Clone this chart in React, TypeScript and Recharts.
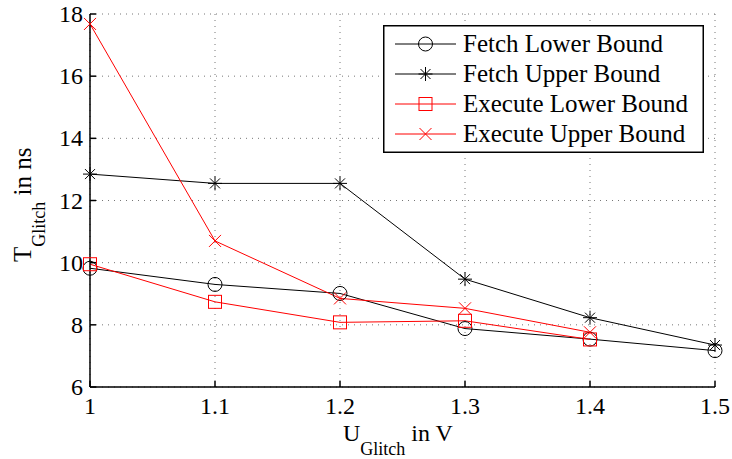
import React from "react";
import { CartesianGrid, Label, Legend, Line, LineChart, XAxis, YAxis } from "recharts";

const voltages = [1, 1.1, 1.2, 1.3, 1.4, 1.5];
const fetchLower = [9.82, 9.3, 9.01, 7.88, 7.54, 7.17];
const fetchUpper = [12.85, 12.55, 12.55, 9.47, 8.23, 7.35];
const executeLower = [9.95, 8.74, 8.08, 8.13, 7.53];
const executeUpper = [17.68, 10.7, 8.85, 8.53, 7.76];
const yTicks = [6, 8, 10, 12, 14, 16, 18];

const seriesNames = ["Fetch Lower Bound", "Fetch Upper Bound", "Execute Lower Bound", "Execute Upper Bound"];

const rows = voltages.map((v, i) => ({
  u: v,
  fetchLower: fetchLower[i],
  fetchUpper: fetchUpper[i],
  executeLower: executeLower[i],
  executeUpper: executeUpper[i]
}));

const FONT = "Liberation Serif";
const RED = "#ff0000";

function marker(kind: string, cx: number, cy: number, color: string) {
  if (kind === "circle") return <circle cx={cx} cy={cy} r={7} fill="none" stroke={color} strokeWidth={1} />;
  if (kind === "square") return <rect x={cx - 6.5} y={cy - 6.5} width={13} height={13} fill="none" stroke={color} strokeWidth={1} />;
  if (kind === "cross") {
    const s = 6;
    return (
      <path d={`M${cx - s},${cy - s}L${cx + s},${cy + s}M${cx - s},${cy + s}L${cx + s},${cy - s}`} stroke={color} strokeWidth={1} fill="none" />
    );
  }
  // asterisk
  const s = 7;
  const d = 5;
  return (
    <path
      d={`M${cx - s},${cy}L${cx + s},${cy}M${cx},${cy - s}L${cx},${cy + s}M${cx - d},${cy - d}L${cx + d},${cy + d}M${cx - d},${cy + d}L${cx + d},${cy - d}`}
      stroke={color}
      strokeWidth={1}
      fill="none"
    />
  );
}

const dotFor = (kind: string, color: string) => (p: any) => {
  if (p.cx == null || p.cy == null || p.value == null) return <g key={p.key} />;
  return <g key={p.key}>{marker(kind, p.cx, p.cy, color)}</g>;
};

const legendItems = [
  { name: seriesNames[0], kind: "circle", color: "#000" },
  { name: seriesNames[1], kind: "star", color: "#000" },
  { name: seriesNames[2], kind: "square", color: RED },
  { name: seriesNames[3], kind: "cross", color: RED }
];

function LegendBox() {
  return (
    <svg width={321} height={128} style={{ display: "block" }}>
      <rect x={0.75} y={0.75} width={319.5} height={126.5} fill="#fff" stroke="#000" strokeWidth={1.5} />
      {legendItems.map((it, i) => {
        const y = 19 + i * 30;
        return (
          <g key={it.name}>
            <line x1={12} x2={73} y1={y} y2={y} stroke={it.color} strokeWidth={1} />
            {marker(it.kind, 42.5, y, it.color)}
            <text x={80} y={y + 8} style={{ fontFamily: FONT, fontSize: 25 }} fill="#000">
              {it.name}
            </text>
          </g>
        );
      })}
    </svg>
  );
}

const XLabel = () => (
  <text x={343} y={441} style={{ fontFamily: FONT, fontSize: 24 }} fill="#000">
    U
    <tspan style={{ fontSize: 18 }} dy={14}>Glitch</tspan>
    <tspan dy={-14}> in V</tspan>
  </text>
);

const YLabel = () => (
  <text transform="translate(31,262) rotate(-90)" x={0} y={0} style={{ fontFamily: FONT, fontSize: 25 }} fill="#000">
    T
    <tspan style={{ fontSize: 18 }} dy={14}>Glitch</tspan>
    <tspan dy={-14}> in ns</tspan>
  </text>
);

const XTick = (p: any) => (
  <text x={p.x} y={p.y + 15} textAnchor="middle" style={{ fontFamily: FONT, fontSize: 24 }} fill="#000">
    {String(p.payload.value)}
  </text>
);

const YTick = (p: any) => (
  <text x={p.x} y={p.y + 8} textAnchor="end" style={{ fontFamily: FONT, fontSize: 24 }} fill="#000">
    {String(p.payload.value)}
  </text>
);

export default function App() {
  return (
    <div style={{ position: "absolute", left: 0, top: 0, width: 732, height: 459, background: "#fff", fontFamily: FONT }}>
      <LineChart width={732} height={459} data={rows} margin={{ top: 14, right: 17, bottom: 0, left: 0 }}>
        <CartesianGrid stroke="#777" strokeDasharray="1 5" />
        <XAxis
          dataKey="u"
          type="number"
          domain={[1, 1.5]}
          ticks={voltages}
          height={72}
          stroke="#000"
          strokeWidth={1.5}
          tickSize={-6}
          tickMargin={18}
          tick={<XTick />}
        >
          <Label content={XLabel} />
        </XAxis>
        <XAxis
          xAxisId="top"
          orientation="top"
          type="number"
          domain={[1, 1.5]}
          ticks={voltages}
          tickFormatter={() => ""}
          height={0}
          stroke="#000"
          strokeWidth={1.5}
          tickSize={-6}
        />
        <YAxis
          type="number"
          domain={[6, 18]}
          ticks={yTicks}
          width={90}
          stroke="#000"
          strokeWidth={1.5}
          tickSize={-6}
          tickMargin={13}
          tick={<YTick />}
        >
          <Label content={YLabel} />
        </YAxis>
        <YAxis
          yAxisId="right"
          orientation="right"
          type="number"
          domain={[6, 18]}
          ticks={yTicks}
          tickFormatter={() => ""}
          width={0}
          stroke="#000"
          strokeWidth={1.5}
          tickSize={-6}
        />
        <Legend
          layout="horizontal"
          verticalAlign="middle"
          align="center"
          content={() => <LegendBox />}
          wrapperStyle={{ position: "absolute", top: 25, left: 383, width: 321, height: 128 }}
        />
        <Line dataKey="fetchLower" name={seriesNames[0]} stroke="#000" strokeWidth={1} dot={dotFor("circle", "#000")} activeDot={false} isAnimationActive={false} />
        <Line dataKey="fetchUpper" name={seriesNames[1]} stroke="#000" strokeWidth={1} dot={dotFor("star", "#000")} activeDot={false} isAnimationActive={false} />
        <Line dataKey="executeLower" name={seriesNames[2]} stroke={RED} strokeWidth={1} dot={dotFor("square", RED)} activeDot={false} isAnimationActive={false} />
        <Line dataKey="executeUpper" name={seriesNames[3]} stroke={RED} strokeWidth={1} dot={dotFor("cross", RED)} activeDot={false} isAnimationActive={false} />
      </LineChart>
    </div>
  );
}
